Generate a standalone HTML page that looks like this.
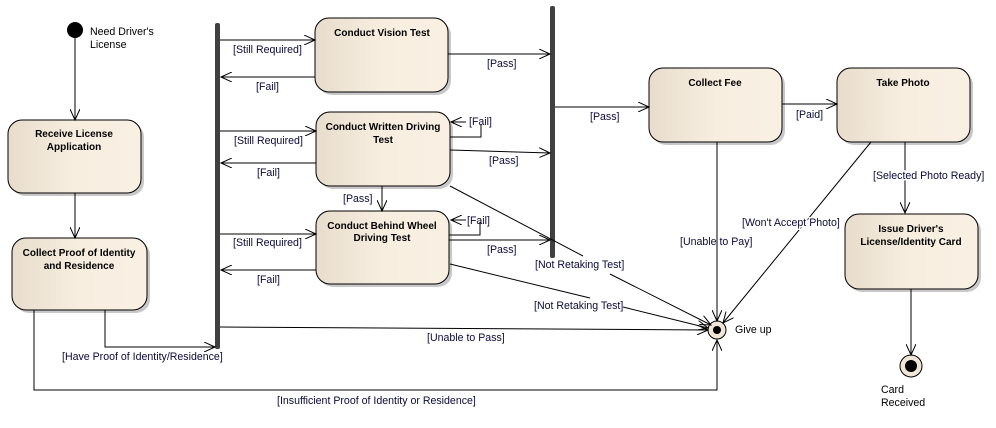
<!DOCTYPE html>
<html><head><meta charset="utf-8"><style>
body{margin:0;background:#fff;}
svg{display:block;}
text{font-family:"Liberation Sans",sans-serif;font-size:10.6px;fill:#000;}
.t{font-weight:bold;text-anchor:middle;font-size:10px;}
.l{fill:#0a0a3a;}
line,polyline{stroke:#000;stroke-width:1;fill:none;}
</style></head><body>
<svg width="996" height="428" viewBox="0 0 996 428">
<defs>
<linearGradient id="g" x1="0" x2="1" y1="0" y2="0"><stop offset="0" stop-color="#e8ddcc"/><stop offset="0.5" stop-color="#f7eee0"/><stop offset="1" stop-color="#f9f0e3"/></linearGradient>
<marker id="a" markerWidth="12" markerHeight="10" refX="11" refY="5" orient="auto" markerUnits="userSpaceOnUse"><path d="M0,0 L11,5 L0,10" fill="none" stroke="#000"/></marker>
</defs>
<g>
<g fill="#c8c8c8"><rect x="11" y="123" width="133" height="73" rx="14"/><rect x="15" y="241" width="135" height="72" rx="14"/><rect x="318" y="21" width="133" height="74" rx="14"/><rect x="319" y="115" width="134" height="74" rx="14"/><rect x="319" y="214" width="133" height="73" rx="14"/><rect x="652" y="71" width="133" height="74" rx="14"/><rect x="840" y="71" width="133" height="74" rx="14"/><rect x="848" y="217" width="133" height="75" rx="14"/></g>
<g fill="url(#g)" stroke="#000"><rect x="8" y="120" width="133" height="73" rx="14"/><rect x="12" y="238" width="135" height="72" rx="14"/><rect x="315" y="18" width="133" height="74" rx="14"/><rect x="316" y="112" width="134" height="74" rx="14"/><rect x="316" y="211" width="133" height="73" rx="14"/><rect x="649" y="68" width="133" height="74" rx="14"/><rect x="837" y="68" width="133" height="74" rx="14"/><rect x="845" y="214" width="133" height="75" rx="14"/></g>
<text class="t" x="74" y="137">Receive License</text><text class="t" x="74" y="150">Application</text>
<text class="t" x="79" y="256">Collect Proof of Identity</text><text class="t" x="79" y="269">and Residence</text>
<text class="t" x="382" y="36">Conduct Vision Test</text>
<text class="t" x="383" y="130">Conduct Written Driving</text><text class="t" x="383" y="143">Test</text>
<text class="t" x="382" y="229">Conduct Behind Wheel</text><text class="t" x="382" y="241">Driving Test</text>
<text class="t" x="715" y="86">Collect Fee</text>
<text class="t" x="903" y="86">Take Photo</text>
<text class="t" x="911" y="232">Issue Driver's</text><text class="t" x="911" y="245">License/Identity Card</text>
<rect x="215" y="23" width="5" height="326" rx="2" fill="#404040"/>
<rect x="550" y="6" width="5" height="252" rx="2" fill="#404040"/>
<circle cx="75" cy="30" r="8" fill="#000"/>
<text x="90" y="35">Need Driver's</text><text x="90" y="48">License</text>
<circle cx="717" cy="330" r="9" fill="#efe6d8" stroke="#000"/><circle cx="717" cy="330" r="4" fill="#000"/>
<text x="735" y="333">Give up</text>
<circle cx="911" cy="366" r="11" fill="#efe6d8" stroke="#000"/><circle cx="911" cy="366" r="6" fill="#000"/>
<text x="881" y="393">Card</text><text x="881" y="406">Received</text>
<line x1="75" y1="38" x2="75" y2="120" marker-end="url(#a)"/>
<line x1="75" y1="193" x2="75" y2="238" marker-end="url(#a)"/>
<polyline points="105,310 105,347 215,347" marker-end="url(#a)"/>
<text class="l" x="62" y="360">[Have Proof of Identity/Residence]</text>
<polyline points="34,310 34,390 717,390 717,340" marker-end="url(#a)"/>
<text class="l" x="277" y="404">[Insufficient Proof of Identity or Residence]</text>
<line x1="220" y1="40" x2="315" y2="40" marker-end="url(#a)"/><text class="l" x="233" y="53">[Still Required]</text>
<line x1="315" y1="77" x2="221" y2="77" marker-end="url(#a)"/><text class="l" x="256" y="90">[Fail]</text>
<line x1="220" y1="131" x2="316" y2="131" marker-end="url(#a)"/><text class="l" x="234" y="144">[Still Required]</text>
<line x1="316" y1="163" x2="221" y2="163" marker-end="url(#a)"/><text class="l" x="257" y="176">[Fail]</text>
<line x1="220" y1="234" x2="316" y2="234" marker-end="url(#a)"/><text class="l" x="233" y="246">[Still Required]</text>
<line x1="316" y1="270" x2="221" y2="270" marker-end="url(#a)"/><text class="l" x="257" y="283">[Fail]</text>
<line x1="448" y1="54" x2="550" y2="54" marker-end="url(#a)"/><text class="l" x="487" y="67">[Pass]</text>
<line x1="450" y1="150" x2="550" y2="153" marker-end="url(#a)"/><text class="l" x="489" y="164">[Pass]</text>
<polyline points="450,137 481,137 481,124" /><line x1="466" y1="122" x2="451" y2="122" marker-end="url(#a)"/><text class="l" x="469" y="125">[Fail]</text>
<line x1="382" y1="186" x2="382" y2="211" marker-end="url(#a)"/><text class="l" x="343" y="202">[Pass]</text>
<polyline points="449,235 480,235 480,222"/><line x1="466" y1="220" x2="451" y2="220" marker-end="url(#a)"/><text class="l" x="467" y="224">[Fail]</text>
<line x1="449" y1="240" x2="550" y2="240" marker-end="url(#a)"/><text class="l" x="487" y="253">[Pass]</text>
<line x1="555" y1="107" x2="649" y2="107" marker-end="url(#a)"/><text class="l" x="590" y="120">[Pass]</text>
<line x1="450" y1="186" x2="583" y2="256"/><text class="l" x="535" y="268">[Not Retaking Test]</text>
<line x1="610" y1="274" x2="711" y2="325" marker-end="url(#a)"/>
<line x1="450" y1="264" x2="590" y2="298"/><text class="l" x="534" y="309">[Not Retaking Test]</text>
<line x1="623" y1="307" x2="708" y2="328" marker-end="url(#a)"/>
<line x1="220" y1="327" x2="708" y2="330" marker-end="url(#a)"/><text class="l" x="427" y="341">[Unable to Pass]</text>
<line x1="717" y1="142" x2="717" y2="321" marker-end="url(#a)"/><text class="l" x="680" y="245">[Unable to Pay]</text>
<line x1="782" y1="104" x2="837" y2="104" marker-end="url(#a)"/><text class="l" x="796" y="118">[Paid]</text>
<line x1="871" y1="142" x2="723" y2="323" marker-end="url(#a)"/><text class="l" x="742" y="226" style="fill:#0a0a3a;stroke:#fff;stroke-width:3;paint-order:stroke">[Won't Accept Photo]</text>
<line x1="905" y1="142" x2="905" y2="213" marker-end="url(#a)"/><text class="l" x="873" y="179" style="stroke:#fff;stroke-width:3;paint-order:stroke">[Selected Photo Ready]</text>
<line x1="911" y1="289" x2="911" y2="355" marker-end="url(#a)"/>
</g>
</svg>
</body></html>
